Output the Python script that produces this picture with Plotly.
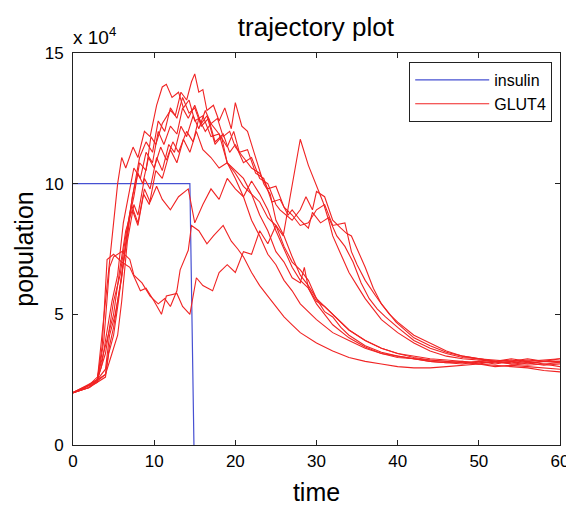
import plotly.graph_objects as go

# insulin (x10^4)
insulin = [(0, 10.0), (14.4, 10.0), (14.9, 0.0)]

# GLUT4 trajectories: (time, population x10^4)
glut1 = [(0,2.0),(1,2.1),(2,2.3),(3,2.5),(3.5,4.0),(4.2,6.0),(5,8.5),(5.5,10.0),(6,11.0),(6.5,10.6),
         (7.4,11.4),(8,11.0),(8.8,12.0),(9.5,11.8),(10.3,13.0),(11,13.7),(11.5,13.8),(12.2,13.3),(13,13.5),
         (13.6,12.9),(14.3,13.2),(15,12.4),(16,12.6),(17,11.8),(18,11.9),(19,10.8),(20,10.2),(21,9.5),
         (22,8.6),(23,8.0),(24,7.3),(25,6.9),(26,6.3),(27,5.9),(28,5.4),(30,4.8),(32,4.3),(34,4.0),
         (36,3.7),(38,3.5),(40,3.4),(42,3.3),(44,3.2),(46,3.15),(48,3.2),(50,3.1),(52,3.2),(54,3.1),
         (56,3.15),(58,3.05),(60,3.1)]
glut2 = [(0,2.0),(2,2.3),(3,2.5),(4,2.7),(4.5,3.8),(5,4.5),(6,6.5),(7,8.8),(7.5,9.5),(8.2,10.8),(9,10.5),
         (9.6,11.8),(10.2,11.5),(11,12.3),(12,12.8),(12.6,12.6),(13.3,13.5),(14,13.2),(14.6,13.9),(15,14.2),
         (15.5,13.5),(16,13.6),(16.5,12.8),(17.3,13.0),(18,12.4),(18.7,12.9),(19.5,12.1),(20,13.1),(20.8,12.2),
         (21.5,12.0),(22.6,10.9),(23.5,10.0),(24.3,9.6),(25,8.6),(26,8.0),(27,7.2),(28,6.5),(29,6.1),(30,5.6),
         (31,5.3),(32,5.0),(34,4.4),(36,4.0),(38,3.7),(40,3.5),(42,3.35),(44,3.25),(46,3.2),(48,3.15),
         (50,3.2),(52,3.1),(54,3.2),(56,3.1),(58,3.2),(60,3.15)]
glut3 = [(0,2.0),(2,2.3),(3,2.6),(3.5,3.2),(4.2,4.0),(5,5.0),(5.8,6.8),(6.5,8.2),(7.3,9.0),(8,8.4),
         (8.7,9.6),(9.4,9.2),(10.2,10.5),(11,10.2),(12,11.3),(12.8,10.8),(13.6,11.7),(14.4,11.2),(15.2,12.0),
         (16,11.3),(17,11.0),(18,10.6),(19,10.8),(20,10.5),(21,10.2),(22,9.6),(23,9.3),(24,8.7),(25,8.4),
         (25.9,8.0),(27,10.0),(28,11.7),(29,10.7),(30,9.9),(30.8,9.3),(31.5,8.6),(32,8.0),(33,7.3),(34,6.6),
         (35,6.1),(36,5.6),(37,5.2),(38,4.8),(40,4.3),(42,3.9),(44,3.6),(46,3.4),(48,3.3),(50,3.25),
         (52,3.2),(54,3.3),(56,3.2),(58,3.25),(60,3.3)]
glut4 = [(0,2.0),(2,2.3),(3,2.5),(4,2.9),(4.5,4.2),(5.2,5.0),(6,6.4),(6.8,8.5),(7.5,9.8),(8.2,11.0),
         (9,11.6),(9.8,11.2),(10.5,12.4),(11.3,12.0),(12,12.9),(12.8,12.5),(13.5,13.3),(14.3,12.7),(15,12.9),
         (15.8,12.2),(16.7,12.5),(17.5,11.6),(18.5,11.9),(19.3,11.2),(20,11.5),(21,10.8),(22,11.0),(23,10.2),
         (24,10.0),(25,9.2),(25.5,9.0),(27,8.6),(28,9.0),(28.7,9.5),(29.5,9.0),(30,9.7),(31,9.5),(32,8.6),
         (33,8.3),(33.7,8.1),(34.3,8.0),(35,7.5),(36,6.8),(37,6.0),(38,5.4),(39,5.0),(40,4.7),(42,4.2),
         (44,3.9),(46,3.6),(48,3.4),(50,3.3),(52,3.2),(54,3.25),(56,3.15),(58,3.2),(60,3.2)]
glut5 = [(0,2.0),(2,2.2),(3,2.45),(4,2.7),(4.8,3.5),(5.5,4.2),(6,5.5),(6.7,7.8),(7.5,9.2),(8,8.8),
         (8.8,10.2),(9.5,9.8),(10.3,11.0),(11,10.5),(11.8,11.5),(12.5,11.2),(13.3,12.2),(14,11.8),(14.8,12.6),
         (15.5,12.1),(16.3,12.8),(17,12.3),(17.8,12.5),(18.5,11.8),(19.3,12.0),(20,11.4),(21,11.0),(22,10.6),
         (23,10.4),(24,9.8),(25,9.9),(26,9.1),(27,8.8),(28,8.4),(29,8.5),(30,9.0),(31,9.2),(32,8.4),
         (33.5,8.5),(34.3,7.4),(35,6.9),(36,6.3),(37.3,5.7),(38,5.4),(39.8,4.7),(42,4.1),(44,3.8),(46,3.55),
         (48,3.4),(50,3.3),(52,3.2),(54,3.15),(56,3.2),(58,3.1),(60,3.15)]
glut6 = [(0,2.0),(2,2.3),(3,2.5),(3.6,3.8),(4.2,7.1),(5,7.3),(6,7.0),(7,6.8),(8.3,5.9),(9,6.0),
         (10,5.5),(10.9,5.0),(11.5,5.7),(12.8,5.8),(13.5,5.3),(14.4,5.0),(15.2,6.4),(16,6.1),(17.2,5.9),
         (18,6.6),(19,6.9),(20,6.6),(21,7.4),(22,7.3),(23,8.2),(24,7.7),(25,8.4),(26,7.6),(27,7.0),
         (28,6.7),(29,6.3),(30,5.6),(31,5.1),(32,4.9),(33,4.5),(34,4.2),(35,4.0),(36,3.8),(38,3.55),
         (40,3.4),(42,3.3),(44,3.25),(46,3.2),(48,3.15),(50,3.1),(52,3.05),(54,3.0),(56,2.95),(58,2.85),(60,2.8)]
glut7 = [(0,2.0),(2,2.25),(3,2.4),(3.8,4.0),(4.5,6.8),(5,7.2),(6,7.4),(7,7.1),(7.5,6.5),(8.5,6.2),
         (9.5,5.7),(10.5,5.4),(11.3,5.6),(12,5.3),(12.8,5.9),(13.2,6.7),(14.2,7.45),(14.6,8.4),(15.5,8.2),
         (16.5,7.7),(17.3,8.0),(18.5,8.4),(19.5,7.8),(20.3,7.5),(21,7.2),(22,6.6),(23,6.1),(24,5.7),(25,5.3),
         (26,4.9),(27,4.6),(28,4.3),(30,3.9),(32,3.6),(34,3.35),(36,3.2),(38,3.1),(40,3.0),(42,2.95),
         (44,2.95),(46,3.0),(48,3.05),(50,3.1),(52,3.0),(54,3.05),(56,3.0),(58,2.95),(60,2.9)]
glut8 = [(0,2.0),(3,2.5),(4,3.5),(5,5.5),(5.8,6.5),(6.5,8.0),(7.2,9.2),(8,8.5),(8.8,9.8),(9.5,9.3),
         (10.3,9.9),(11,9.4),(12,9.0),(13,9.5),(14.2,9.8),(15,8.5),(16,9.2),(17,9.8),(18,9.4),(19,10.2),
         (20,9.8),(21,9.5),(22,10.1),(23,9.6),(24,9.0),(25,8.2),(26,7.5),(27,6.8),(28,6.3),(29,6.0),
         (30,5.5),(31,5.3),(32,5.0),(33,4.7),(34,4.4),(36,4.0),(38,3.7),(40,3.5),(42,3.4),(44,3.3),
         (46,3.25),(48,3.2),(50,3.15),(52,3.2),(54,3.1),(56,3.05),(58,3.1),(60,3.0)]
glut9 = [(0,2.0),(2,2.2),(3,2.5),(3.5,3.0),(4,4.0),(4.8,5.5),(5.5,6.5),(6.2,8.5),(7,9.8),(7.5,10.6),
         (8.3,10.2),(9,11.2),(9.8,10.8),(10.5,12.0),(11.2,11.5),(12,12.2),(12.8,11.9),(13.5,12.9),(14.2,12.5),
         (15,13.0),(15.8,12.3),(16.5,12.6),(17.5,11.5),(18.3,11.8),(19,10.8),(20,10.4),(21,9.9),(22,9.6),
         (23,8.8),(24,8.2),(25,7.4),(26,7.0),(27,6.4),(28,6.2),(28.5,6.8),(29,6.0),(30,5.4),(31,5.0),
         (32,4.6),(34,4.1),(36,3.75),(38,3.5),(40,3.35),(42,3.3),(44,3.2),(46,3.15),(48,3.1),(50,3.2),
         (52,3.15),(54,3.2),(56,3.25),(58,3.2),(60,3.3)]
glut10 = [(0,2.0),(2,2.2),(3,2.4),(4,2.6),(4.4,3.5),(5,4.2),(5.6,5.5),(6.2,7.0),(6.8,8.2),(7.3,9.5),
          (8,10.4),(8.6,10.0),(9.3,11.0),(10,10.6),(10.8,11.4),(11.5,10.9),(12.3,11.6),(13,11.2),(14,12.0),
          (14.8,11.6),(15.5,12.5),(16.3,12.0),(17,12.3),(18,11.9),(19,11.4),(19.8,12.0),(20.5,11.2),
          (21.5,11.3),(22.5,10.4),(23.5,10.2),(24.5,9.3),(25.5,9.4),(26.5,8.8),(27,9.0),(28,8.6),(29,8.3),
          (29.5,8.9),(30.5,8.5),(31.5,8.7),(32.5,8.0),(33.5,7.6),(34.5,7.0),(35.5,6.2),(36.5,5.6),(37.5,5.2),
          (38.5,4.9),(40,4.5),(42,4.0),(44,3.7),(46,3.5),(48,3.35),(50,3.3),(52,3.25),(54,3.2),(56,3.3),
          (58,3.2),(60,3.2)]

glut_series = [glut1, glut2, glut3, glut4, glut5, glut6, glut7, glut8, glut9, glut10]

x_ticks = [0, 10, 20, 30, 40, 50, 60]
y_ticks = [0, 5, 10, 15]

RED = "rgb(240,35,35)"
BLUE = "rgb(70,80,210)"
FONT = "Liberation Sans, Arial, Helvetica, sans-serif"

fig = go.Figure()
fig.add_trace(go.Scatter(x=[p[0] for p in insulin], y=[p[1] for p in insulin], mode="lines",
                         line=dict(color=BLUE, width=1.2), name="insulin"))
for i, s in enumerate(glut_series):
    fig.add_trace(go.Scatter(x=[p[0] for p in s], y=[p[1] for p in s], mode="lines",
                             line=dict(color=RED, width=1.1), name="GLUT4",
                             legendgroup="glut4", showlegend=(i == 0)))

axis_common = dict(showline=True, linecolor="#222", linewidth=1, mirror="allticks",
                   ticks="inside", ticklen=5, tickcolor="#222", showgrid=False, zeroline=False,
                   automargin=False,
                   tickfont=dict(size=17, color="black", family=FONT))

fig.update_layout(
    width=566, height=498,
    margin=dict(l=65, r=14, t=45, b=61, autoexpand=False),
    paper_bgcolor="white", plot_bgcolor="white",
    font=dict(family=FONT, color="black"),
    title=dict(text="trajectory plot", x=0.544, xanchor="center", y=0.962, yanchor="middle",
               font=dict(size=26, color="black", family=FONT)),
    xaxis=dict(range=[0, 60], tickvals=x_ticks, ticktext=[str(v) for v in x_ticks],
               title=dict(text="time", font=dict(size=25, family=FONT), standoff=14),
               ticklabelstandoff=1, **axis_common),
    yaxis=dict(range=[0, 15], tickvals=y_ticks, ticktext=[str(v) for v in y_ticks],
               title=dict(text="population", font=dict(size=25, family=FONT), standoff=3),
               ticklabelstandoff=5, **axis_common),
    legend=dict(x=0.984, y=0.977, xanchor="right", yanchor="top", bgcolor="white",
                bordercolor="#222", borderwidth=1, font=dict(size=16, family=FONT, color="black"),
                itemwidth=74, tracegroupgap=0),
    showlegend=True,
)
fig.add_annotation(text="x 10<sup>4</sup>", xref="paper", yref="paper", x=0, y=1,
                   xanchor="left", yanchor="bottom", yshift=3, xshift=-2, showarrow=False,
                   font=dict(size=19, family=FONT, color="black"))

fig.write_html("out.html")
